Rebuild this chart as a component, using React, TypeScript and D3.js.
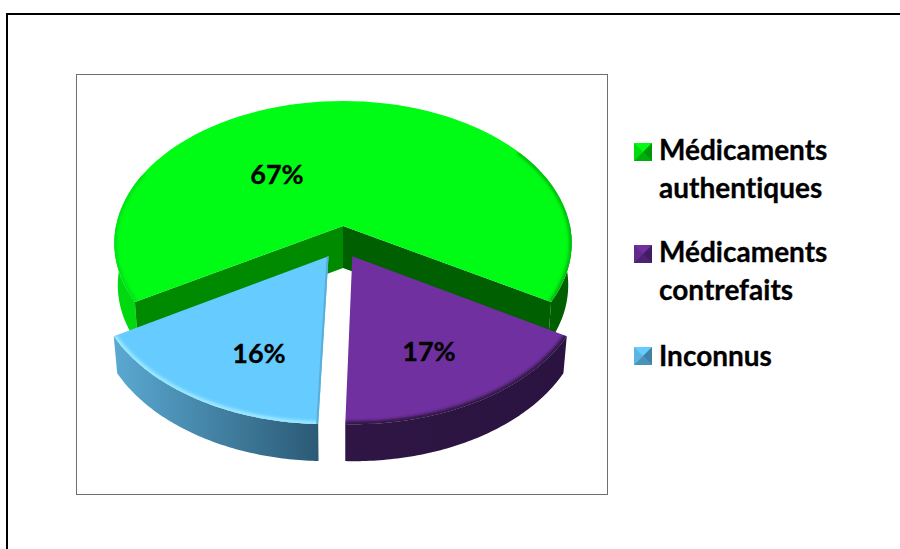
import * as d3 from 'd3';

const categories = ['Médicaments authentiques', 'Médicaments contrefaits', 'Inconnus'];
const values = [67, 17, 16];
const legendLines = [['Médicaments', 'authentiques'], ['Médicaments', 'contrefaits'], ['Inconnus']];

// layout of the fake 3D disc
const cx = 343;
const cy = 226;
const rx = 227;
const ry = 140;
const persp = 0.12;
const startAngle = -0.67 * Math.PI;

const explode = [[0, 0], [0.04, 0.21], [-0.062, 0.21]];
const depth = [42, 37, 37];
const topFill = ['#00fb14', '#7030a0', '#66ccff'];
const rimStroke = ['#00b80e', '#2d1540', '#9ce8ff'];
const sideFrom = ['#00d810', '#2f1644', '#5aa9d2'];
const sideTo = ['#005f00', '#2a1340', '#2b5a75'];
const labelPos = [[277, 175], [429, 352], [259, 354]];

type Pt = [number, number];

// disc coordinates -> screen
const project = (u: number, v: number): Pt => {
  const s = 1 / (1 - persp * v);
  return [cx + rx * u * s, cy + ry * v * s];
};
const polar = (a: number, off: number[]): Pt => project(Math.sin(a) + off[0], -Math.cos(a) + off[1]);
const lower = (p: Pt, h: number): Pt => [cx + (p[0] - cx) * 0.985, p[1] + h];

const path = d3.line();
const arcPoints = (a0: number, a1: number, off: number[]): Pt[] =>
  d3.range(0, 1.0001, 1 / 80).map((t) => polar(a0 + (a1 - a0) * t, off));

const slices = d3.pie<number>().sort(null).startAngle(startAngle).endAngle(startAngle + 2 * Math.PI)(values);

const App = () => {
  const drawSlice = (i: number) => {
    const { startAngle: a0, endAngle: a1 } = slices[i];
    const off = explode[i];
    const h = depth[i];
    const rim = arcPoints(a0, a1, off);
    const apex = project(off[0], off[1]);
    const top = path([apex, ...rim])! + 'Z';
    // the outer wall is only seen on the part of the rim facing the viewer
    const side = (pts: Pt[]) => path([...pts, ...pts.map((p) => lower(p, h)).reverse()])! + 'Z';
    return (
      <g key={categories[i]}>
        {i > 0 ? (
          <path d={side(rim)} fill={`url(#side${i})`} />
        ) : (
          <>
            <path d={side(arcPoints(a0, -Math.PI / 2 + 0.02, off))} fill={sideFrom[0]} />
            <path d={side(arcPoints(Math.PI / 2 - 0.02, a1, off))} fill={sideTo[0]} />
            <path d={side([rim[0], apex])} fill="#008a00" />
            <path d={side([apex, rim[rim.length - 1]])} fill={sideTo[0]} />
          </>
        )}
        <clipPath id={`clip${i}`}>
          <path d={top} />
        </clipPath>
        <path d={top} fill={topFill[i]} />
        <g clipPath={`url(#clip${i})`}>
          {i === 0 ? (
            <>
              <path d={path(arcPoints(Math.PI / 2 - 0.6, a1, off))!} fill="none" stroke={rimStroke[0]} strokeWidth={5} filter="url(#soft)" />
              <path d={path(arcPoints(a0, -Math.PI / 2 + 0.4, off))!} fill="none" stroke="#00e012" strokeWidth={5} filter="url(#soft)" />
            </>
          ) : (
            <path d={path(rim)!} fill="none" stroke={rimStroke[i]} strokeWidth={6} filter="url(#soft)" />
          )}
          {i === 2 && <path d={path([apex, rim[0]])!} fill="none" stroke="#5aaed8" strokeWidth={4} />}
        </g>
      </g>
    );
  };

  return (
    <svg width={900} height={549} style={{ position: 'absolute', left: 0, top: 0, background: '#fff' }}>
      <defs>
        <filter id="soft" x="-10%" y="-10%" width="120%" height="120%">
          <feGaussianBlur stdDeviation="1.4" />
        </filter>
        {values.map((_, i) => (
          <linearGradient id={`side${i}`} key={i} x1="0" x2="1" y1="0" y2="0">
            <stop offset="0" stopColor={sideFrom[i]} />
            <stop offset="1" stopColor={sideTo[i]} />
          </linearGradient>
        ))}
      </defs>

      <rect x={7} y={14} width={920} height={560} fill="none" stroke="#000" strokeWidth={2} />
      <rect x={76.5} y={74.5} width={531} height={420} fill="#fff" stroke="#6e6e6e" strokeWidth={1} />

      {drawSlice(0)}
      {drawSlice(2)}
      {drawSlice(1)}

      {values.map((v, i) => (
        <text
          key={i}
          x={labelPos[i][0]}
          y={labelPos[i][1]}
          dy="0.35em"
          textAnchor="middle"
          fontFamily="Lato"
          fontWeight={700}
          fontSize={27}
          stroke="#000"
          strokeWidth={0.3}
          fill="#000"
        >
          {v}%
        </text>
      ))}

      {legendLines.map((lines, i) => {
        const y0 = [143, 245, 347][i];
        const s = 18;
        const x0 = 634;
        const c: Pt = [x0 + s / 2, y0 + s / 2];
        const tl: Pt = [x0, y0];
        const tr: Pt = [x0 + s, y0];
        const br: Pt = [x0 + s, y0 + s];
        const bl: Pt = [x0, y0 + s];
        return (
          <g key={categories[i]}>
            <rect x={x0} y={y0} width={s} height={s} fill={topFill[i]} />
            <path d={path([bl, br, c])! + 'Z'} fill={sideTo[i]} opacity={0.5} />
            <path d={path([tl, bl, c])! + 'Z'} fill={sideTo[i]} opacity={0.2} />
            <path d={path([tr, br, c])! + 'Z'} fill={sideTo[i]} opacity={0.65} />
            {lines.map((line, j) => (
              <text
                key={line}
                x={659}
                y={[160, 262, 366][i] + j * 37.5}
                fontFamily="Lato"
                fontWeight={700}
                fontSize={28}
                stroke="#000"
                strokeWidth={0.3}
                fill="#000"
                style={{ fontVariantLigatures: 'none' }}
              >
                {line}
              </text>
            ))}
          </g>
        );
      })}
    </svg>
  );
};

export default App;
